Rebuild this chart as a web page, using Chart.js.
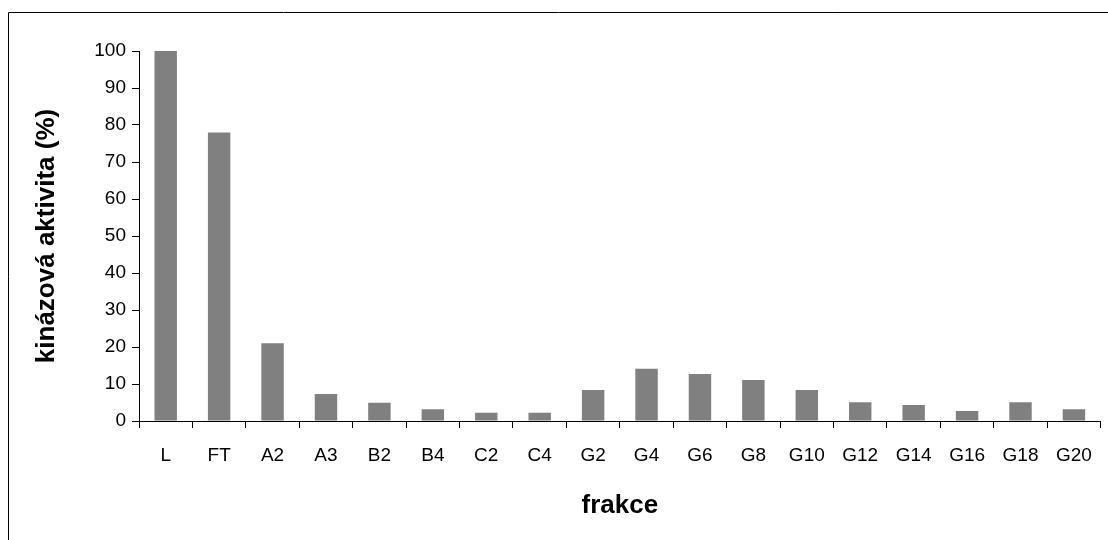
<!DOCTYPE html>
<html>
<head>
<meta charset="utf-8">
<script src="https://cdn.jsdelivr.net/npm/chart.js@4/dist/chart.umd.min.js"></script>
<style>
  html, body { margin: 0; padding: 0; background: #fff; }
  #wrap { width: 1108px; height: 540px; }
</style>
</head>
<body>
<div id="wrap"><canvas id="kinaseChart" width="1108" height="540"></canvas></div>
<script>
const fractions = ['L', 'FT', 'A2', 'A3', 'B2', 'B4', 'C2', 'C4', 'G2', 'G4', 'G6', 'G8', 'G10', 'G12', 'G14', 'G16', 'G18', 'G20'];
const activity = [100, 78, 21, 7.3, 4.9, 3.2, 2.2, 2.2, 8.4, 14.1, 12.7, 11.1, 8.4, 5.1, 4.3, 2.7, 5.1, 3.2];
const yTicks = [0, 10, 20, 30, 40, 50, 60, 70, 80, 90, 100];

// white page + the frame line at top/left like the excel export
const frame = {
  id: 'frame',
  beforeDraw(chart) {
    const ctx = chart.ctx;
    ctx.save();
    ctx.fillStyle = '#fff';
    ctx.fillRect(0, 0, chart.width, chart.height);
    ctx.strokeStyle = '#000';
    ctx.lineWidth = 1;
    ctx.beginPath();
    ctx.moveTo(8.5, chart.height);
    ctx.lineTo(8.5, 12.5);
    ctx.lineTo(chart.width, 12.5);
    ctx.stroke();
    ctx.restore();
  }
};

const el = document.getElementById('kinaseChart');
if (el) {
  new Chart(el.getContext('2d'), {
    type: 'bar',
    data: {
      labels: fractions,
      datasets: [{
        label: 'kinázová aktivita',
        data: activity,
        backgroundColor: '#808080',
        borderWidth: 0,
        barPercentage: 0.42,
        categoryPercentage: 1
      }]
    },
    options: {
      responsive: false,
      animation: false,
      layout: { padding: { left: 0, top: 51, right: 4, bottom: 0 } },
      plugins: {
        legend: { display: false },
        tooltip: { enabled: false }
      },
      scales: {
        x: {
          grid: { drawOnChartArea: false, color: '#000', tickLength: 7, offset: true },
          border: { display: true, color: '#000', width: 1 },
          ticks: { color: '#000', padding: 16, font: { family: 'Liberation Sans', size: 19 } },
          title: {
            display: true,
            text: 'frakce',
            color: '#000',
            font: { family: 'Liberation Sans', size: 26, weight: 'bold' },
            padding: { top: 0, bottom: 19 }
          },
          afterFit(scale) { scale.height = 119; }
        },
        y: {
          min: 0,
          max: 100,
          afterBuildTicks(scale) { scale.ticks = yTicks.map(v => ({ value: v })); },
          grid: { drawOnChartArea: false, color: '#000', tickLength: 7 },
          border: { display: true, color: '#000', width: 1 },
          ticks: { color: '#000', padding: 6, font: { family: 'Liberation Sans', size: 19 } },
          title: {
            display: true,
            text: 'kinázová aktivita (%)',
            color: '#000',
            font: { family: 'Liberation Sans', size: 26, weight: 'bold' },
            padding: { top: 31, bottom: 0 }
          },
          afterFit(scale) { scale.width = 139; }
        }
      }
    },
    plugins: [frame]
  });
}
</script>
</body>
</html>
